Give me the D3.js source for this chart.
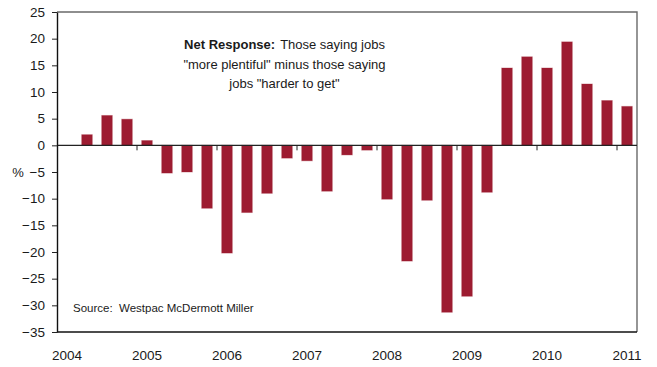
<!DOCTYPE html>
<html>
<head>
<meta charset="utf-8">
<script src="https://cdn.jsdelivr.net/npm/d3@7"></script>
<style>
  body { margin: 0; background: #fff; }
  text { font-family: "Liberation Sans", Arial, sans-serif; fill: #1a1a1a; }
</style>
</head>
<body>
<svg id="chart" width="657" height="367"></svg>
<script>
// Quarterly net response, 2004 Q1 to 2011 Q1
const quarters = [
  "2004Q1","2004Q2","2004Q3","2004Q4",
  "2005Q1","2005Q2","2005Q3","2005Q4",
  "2006Q1","2006Q2","2006Q3","2006Q4",
  "2007Q1","2007Q2","2007Q3","2007Q4",
  "2008Q1","2008Q2","2008Q3","2008Q4",
  "2009Q1","2009Q2","2009Q3","2009Q4",
  "2010Q1","2010Q2","2010Q3","2010Q4",
  "2011Q1"
];
const netResponse = [
  null, 2.0, 5.6, 4.9,
  0.9, -5.2, -5.0, -11.8,
  -20.2, -12.6, -9.0, -2.4,
  -2.9, -8.6, -1.8, -0.9,
  -10.1, -21.7, -10.3, -31.3,
  -28.3, -8.8, 14.5, 16.6,
  14.5, 19.4, 11.5, 8.4,
  7.3
];
const yTicks = [-35, -30, -25, -20, -15, -10, -5, 0, 5, 10, 15, 20, 25];
const yearLabels = ["2004","2005","2006","2007","2008","2009","2010","2011"];

const svg = d3.select("#chart");
const plotL = 57, plotR = 637, plotT = 12, plotB = 332;

const pad = 0.47;
const x = d3.scaleBand().domain(quarters).range([plotL, plotR])
  .paddingInner(pad).paddingOuter(pad / 2);
const y = d3.scaleLinear().domain([-35, 25]).range([plotB, plotT]);

// frame: top and right edges
svg.append("path")
  .attr("d", `M${plotL},${plotT}H${plotR}V${plotB}`)
  .attr("fill", "none").attr("stroke", "#6a6a6a").attr("stroke-width", 1.4);
// bottom edge
svg.append("line")
  .attr("x1", plotL).attr("x2", plotR).attr("y1", plotB).attr("y2", plotB)
  .attr("stroke", "#111").attr("stroke-width", 1.4);

// bars
const data = quarters.map((q, i) => ({ q, v: netResponse[i] })).filter(d => d.v !== null);
svg.append("g").selectAll("rect").data(data).join("rect")
  .attr("x", d => x(d.q))
  .attr("width", x.bandwidth())
  .attr("y", d => y(Math.max(0, d.v)))
  .attr("height", d => Math.abs(y(d.v) - y(0)))
  .attr("fill", "#9d1c31")
  .attr("stroke", "rgba(157,28,49,0.35)")
  .attr("stroke-width", 1);

// zero line with year ticks below it
const step = x.step();
const zeroY = y(0);
svg.append("line")
  .attr("x1", plotL).attr("x2", plotR).attr("y1", zeroY).attr("y2", zeroY)
  .attr("stroke", "#222").attr("stroke-width", 1.2);
svg.append("g").selectAll("line").data(yearLabels.slice(1)).join("line")
  .attr("x1", d => x(d + "Q1") - step * pad / 2)
  .attr("x2", d => x(d + "Q1") - step * pad / 2)
  .attr("y1", zeroY).attr("y2", zeroY + 5)
  .attr("stroke", "#222").attr("stroke-width", 1);

// y axis
const yAxis = svg.append("g")
  .attr("transform", `translate(${plotL},0)`)
  .call(d3.axisLeft(y).tickValues(yTicks).tickSize(5).tickSizeOuter(0).tickPadding(7));
yAxis.select(".domain").attr("stroke", "#111").attr("stroke-width", 1.4);
yAxis.selectAll(".tick line").attr("stroke", "#222");
yAxis.selectAll("text").attr("font-size", 13.5).attr("font-family", null).attr("fill", "#1a1a1a");

// year labels under the plot
const xAxis = svg.append("g")
  .attr("transform", `translate(0,${plotB})`)
  .call(d3.axisBottom(x)
    .tickValues(yearLabels.map(d => d + "Q1"))
    .tickFormat(d => d.slice(0, 4))
    .tickSize(0).tickPadding(18));
xAxis.select(".domain").remove();
xAxis.selectAll("text").attr("font-size", 13.5).attr("font-family", null).attr("fill", "#1a1a1a");

// unit label
svg.append("text").attr("x", 18).attr("y", y(-5)).attr("dy", "0.35em")
  .attr("text-anchor", "middle").attr("font-size", 13).text("%");

// explanatory note
const note = svg.append("text").attr("text-anchor", "middle").attr("font-size", 13);
const l1 = note.append("tspan").attr("x", 284.5).attr("y", 49);
l1.append("tspan").attr("font-weight", "bold").text("Net Response:");
l1.append("tspan").attr("dx", 5).text("Those saying jobs");
note.append("tspan").attr("x", 284.5).attr("y", 69).text("\"more plentiful\" minus those saying");
note.append("tspan").attr("x", 284.5).attr("y", 88).text("jobs \"harder to get\"");

// source
svg.append("text").attr("x", 73).attr("y", 312).attr("font-size", 11.5)
  .style("white-space", "pre")
  .text("Source:  Westpac McDermott Miller");
</script>
</body>
</html>
